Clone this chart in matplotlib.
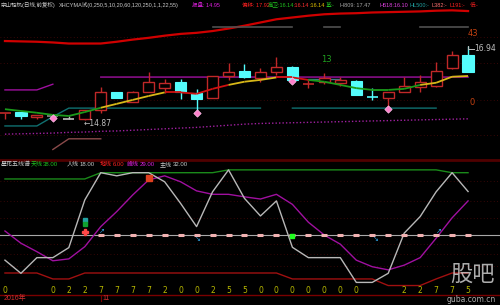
import matplotlib
matplotlib.use("Agg")
import matplotlib.pyplot as plt
import numpy as np
from matplotlib.collections import LineCollection

plt.rcParams['font.family'] = ['Liberation Sans', 'Noto Sans CJK SC', 'DejaVu Sans']

# ---- price panel data ----
opens = [15.07, 15.09, 14.96, 14.99, 14.90, 14.89, 15.15, 15.64, 15.38, 15.66,
         15.76, 15.92, 15.63, 15.48, 16.11, 16.24, 16.04, 16.22, 16.34, 15.87,
         15.92, 15.90, 15.97, 15.52, 15.49, 15.64, 15.80, 15.83, 16.33, 16.69]
closes = [15.07, 14.99, 15.01, 14.99, 14.90, 15.15, 15.66, 15.48, 15.66, 15.93,
          15.90, 15.64, 15.45, 16.10, 16.22, 16.08, 16.20, 16.34, 15.99, 15.87,
          16.05, 15.99, 15.57, 15.52, 15.66, 15.82, 15.94, 16.24, 16.69, 16.20]
highs = [15.07, 15.09, 15.01, 14.99, 14.99, 15.15, 15.80, 15.64, 15.67, 16.22,
         16.02, 16.02, 15.73, 16.10, 16.46, 16.43, 16.32, 16.62, 16.38, 15.99,
         16.19, 16.06, 15.99, 15.77, 15.66, 16.06, 16.13, 16.50, 16.80, 16.94]
lows = [14.90, 14.90, 14.89, 14.95, 14.90, 14.87, 15.07, 15.48, 15.38, 15.66,
        15.63, 15.46, 15.15, 15.48, 15.99, 16.05, 15.92, 16.13, 15.99, 15.77,
        15.87, 15.83, 15.57, 15.43, 15.23, 15.64, 15.66, 15.80, 16.29, 16.20]

ma_line = [15.17, 15.12, 15.07, 15.01, 14.98, 15.09, 15.21, 15.32, 15.43, 15.54,
           15.64, 15.64, 15.60, 15.74, 15.85, 15.94, 15.99, 16.06, 16.06, 15.99,
           15.94, 15.85, 15.76, 15.71, 15.71, 15.74, 15.85, 15.91, 16.08, 16.10]
ma_colors = (['#1a9a1a'] * 6 + ['#d8b818'] * 4 + ['#d01010'] * 4 + ['#d8b818'] * 3
             + ['#d01010'] * 2 + ['#1a9a1a'] * 7 + ['#d8b818'] * 3)

upper_red = [17.08, 17.07, 17.06, 17.04, 17.01, 17.01, 17.01, 17.06, 17.12, 17.17,
             17.23, 17.28, 17.31, 17.36, 17.43, 17.51, 17.60, 17.69, 17.74, 17.79,
             17.83, 17.85, 17.86, 17.88, 17.89, 17.90, 17.91, 17.93, 17.94, 17.92]
nan = np.nan
h809 = [nan] * 13 + [17.47] * 6 + [nan] + [17.47] * 2 + [nan] * 4 + [17.47] * 4
h618 = [15.71, 15.71, 15.71, 15.87, nan, nan] + [16.07] * 24
hl500 = [14.70, 14.70, 14.70, 14.96] + [15.20] * 13 + [nan] + [15.20] * 10 + [nan, nan]
blue_seg = [nan] * 19 + [16.01] * 3 + [nan] * 8
brown = [nan, nan, nan, 14.04, 14.34, 14.34, 14.34] + [nan] * 23
dotted = [14.47, 14.48, 14.49, 14.50, 14.52, 14.53, 14.55, 14.56, 14.58, 14.60,
          14.62, 14.64, 14.66, 14.69, 14.72, 14.75, 14.77, 14.78, 14.79, 14.80,
          14.81, 14.82, 14.83, 14.84, 14.85, 14.86, 14.87, 14.88, 14.89, 14.90]
diamond_idx = [3, 12, 18, 24]
diamond_val = [14.93, 15.06, 15.96, 15.17]
price_grid = [17.19, 16.47, 15.43, 14.45]

# ---- indicator panel data ----
sky = [36.0] * 6 + [38.0] * 8 + [38.9] * 14 + [38.0] * 2
main_line = [10.1, 5.9, 10.9, 10.9, 14.1, 29.3, 38.0, 37.0, 38.0, 38.0,
             35.1, 28.2, 20.8, 31.9, 38.9, 29.8, 24.2, 29.0, 14.2, 10.9,
             10.9, 10.9, 3.0, 3.0, 5.9, 18.7, 24.0, 31.9, 38.0, 32.0]
peak_line = [19.4, 15.5, 12.8, 9.9, 10.5, 14.4, 20.8, 25.6, 30.9, 35.7,
             37.0, 35.1, 32.2, 31.1, 31.1, 30.3, 29.6, 31.1, 27.9, 22.2,
             18.1, 15.2, 10.1, 8.0, 7.0, 8.5, 10.9, 17.1, 23.6, 29.0]
ground = [6.0, 6.0, 6.0, 4.1, 4.1] + [6.0] * 13 + [4.1] * 6 + [2.0] * 3 + [4.1, 6.0, 6.0]
human = 18.0
digits = ['0', '', '', '0', '2', '2', '7', '7', '7', '7', '2', '0', '0', '2', '5',
          '5', '0', '0', '0', '0', '0', '0', '0', '', '', '2', '2', '7', '7', '5']
ind_grid = [35.35, 28.97, 23.55, 15.25, 12.06, 8.23]

n = len(opens)
x = np.arange(n)

fig = plt.figure(figsize=(5, 3.05), dpi=100, facecolor='black')


def fx(px):
    return px / 500.0


def fy(py):
    return 1 - py / 305.0


# ===== price panel =====
ax = fig.add_axes([0, fy(152), 1, 152 / 305.0])
ax.set_facecolor('black')
ax.set_xlim(-0.31, 31.0)
ax.set_ylim(13.97, 18.23)
ax.axis('off')

for g in price_grid:
    ax.axhline(g, color='#4a0808', lw=0.6, ls=(0, (1, 3)), zorder=0)

ax.plot(x, upper_red, color='#d00000', lw=1.6, zorder=2)
ax.plot(x, h809, color='#505050', lw=1.2, zorder=2)
ax.plot(x, h618, color='#a010a0', lw=1.0, zorder=2)
ax.plot(x, hl500, color='#107070', lw=1.0, zorder=2)
ax.plot(x, blue_seg, color='#3a7a8a', lw=1.0, zorder=2)
ax.plot(x, brown, color='#8a4a4a', lw=1.0, zorder=2)
ax.plot(x, dotted, color='#a020a0', lw=1.0, ls=(0, (1, 1.5)), zorder=2)

red_c = '#c02828'
cyan_c = '#54fcfc'
for i in range(n):
    o, c, h, l = opens[i], closes[i], highs[i], lows[i]
    if c > o:
        col = red_c
    elif c < o:
        col = cyan_c
    elif i == 4:
        col = '#c0c0c0'
    elif i == 23:
        col = cyan_c
    elif i == 3:
        col = '#909090'
    else:
        col = red_c
    ax.vlines(i, l, h, color=col, lw=1.0, zorder=3)
    if c == o:
        ax.hlines(o, i - 0.35, i + 0.35, color=col, lw=1.2, zorder=4)
    elif c > o:
        ax.bar(i, c - o, bottom=o, width=0.7, facecolor='black',
               edgecolor=col, lw=1.0, zorder=4)
    else:
        ax.bar(i, o - c, bottom=c, width=0.7, facecolor=col,
               edgecolor=col, lw=0.8, zorder=4)

pts = np.column_stack([x, ma_line])
segs = [pts[k:k + 2] for k in range(n - 1)]
ax.add_collection(LineCollection(segs, colors=ma_colors, lw=1.3, zorder=5))

ax.scatter(diamond_idx, diamond_val, marker='D', s=14, color='#ff80cc',
           edgecolor='#ffc0e8', lw=0.5, zorder=6)

ax.text(4.95, 14.87 - 0.09, '←14.87', color='#c0c0c0', fontsize=5.5,
        va='center', ha='left', family='DejaVu Sans', zorder=7)
ax.plot([29, 29, 29.35], [16.94, 16.86, 16.86], color='#c0c0c0', lw=0.7, zorder=7)
ax.text(29.4, 16.86, '16.94', color='#c0c0c0', fontsize=5.5, va='center',
        ha='left', family='DejaVu Sans', zorder=7)
ax.text(20.1, 16.55, '13', color='#20a020', fontsize=6, va='center', ha='center',
        family='DejaVu Sans')
ax.text(29.0, 17.30, '43', color='#c04010', fontsize=6, va='center', ha='left',
        family='DejaVu Sans')
ax.text(29.1, 15.37, '0', color='#c04010', fontsize=6, va='center', ha='left',
        family='DejaVu Sans')

# ===== indicator panel =====
bx = fig.add_axes([0, fy(294), 1, 134 / 305.0])
bx.set_facecolor('black')
bx.set_xlim(-0.31, 31.0)
bx.set_ylim(-0.7, 42.05)
bx.axis('off')

for g in ind_grid:
    bx.axhline(g, color='#4a0808', lw=0.6, ls=(0, (1, 3)), zorder=0)

bx.plot(x, sky, color='#1a8a1a', lw=1.0, zorder=2)
bx.plot(x, ground, color='#a01010', lw=1.0, zorder=2)
bx.plot(x, peak_line, color='#a010a0', lw=1.0, zorder=3)
bx.plot(x, main_line, color='#b8b8b8', lw=1.0, zorder=4)
bx.axhline(human, color='#a8a8a8', lw=0.8, zorder=2)
bx.plot(x[6:], [human] * (n - 6), ls='none', marker='_', ms=5, mew=2.2,
        color='#f0b0b0', zorder=5)

bx.plot([5], [22.9], 's', ms=3.5, color='#20a0a0', zorder=6)
bx.plot([5], [21.5], 's', ms=3.5, color='#10a030', zorder=6)
bx.plot([5], [19.2], 'P', ms=4, color='#ff4848', zorder=6)
bx.plot([9], [36.2], 's', ms=4.5, color='#e04020', zorder=6)
bx.plot([18], [17.8], 's', ms=3, color='#20ff20', zorder=6)
for xi, yi, ch in [(6.1, 19.4, '↗'), (12.1, 16.8, '↘'), (23.2, 16.8, '↘'), (27.2, 19.4, '↗')]:
    bx.text(xi, yi, ch, color='#30a0e0', fontsize=5, ha='center', va='center',
            family='DejaVu Sans', zorder=6)

for i, d in enumerate(digits):
    if d:
        bx.text(i, 0.4, d, color='#b8b800', fontsize=5.5, ha='center', va='center',
                family='DejaVu Sans', zorder=6)

# watermark
fig.text(fx(472), fy(275), '股吧', color='#d8d8d8', alpha=0.8, fontsize=16,
         ha='center', va='center', zorder=0)
fig.text(fx(471), fy(300), 'guba.com.cn', color='#d8d8d8', alpha=0.8,
         fontsize=5.5, ha='center', va='center', family='DejaVu Sans')

# separators and date bar
fig.add_artist(plt.Line2D([0, 1], [fy(159.5), fy(159.5)], color='#500000', lw=2.0))
fig.add_artist(plt.Line2D([0, 1], [fy(294.5), fy(294.5)], color='#7a0000', lw=1.0))
fig.add_artist(plt.Line2D([fx(100.5), fx(100.5)], [fy(294.5), fy(301)], color='#7a0000', lw=0.8))
fig.text(fx(4), fy(298.5), '2016年', color='#d03030', fontsize=5, va='center', ha='left')
fig.text(fx(102), fy(298.5), '11', color='#d03030', fontsize=5, va='center', ha='left')

# header of price panel
hy = fy(5.5)
fs = 4.0
header = [
    (1, '宗山轻机(日线,前复权)', '#c8c8c8'),
    (59, 'XHCYMA试(0,250,5,10,20,60,120,250,1,1,22,55)', '#c8c8c8'),
    (192, '报盘: 14.95', '#e020e0'),
    (242, '偏移: 17.92', '#ff2020'),
    (268, '高卫:16.14', '#20c020'),
    (294, ':16.14', '#ff3030'),
    (310, ':16.14', '#e0c000'),
    (326, '基:-', '#20c020'),
    (340, 'H809: 17.47', '#a8a8a8'),
    (379, 'H618:16.10', '#e040e0'),
    (409, 'HL500:-', '#20a0a0'),
    (431, 'L382:-', '#ff7070'),
    (450, 'L191:-', '#ff2020'),
    (470, '低:-', '#ff2020'),
]
for px, s, col in header:
    fig.text(fx(px), hy, s, color=col, fontsize=fs, va='center', ha='left')

# header of indicator panel
iy = fy(164)
ind_header = [
    (1, '星花五线谱', '#c8c8c8'),
    (31, '天线', '#20c020'),
    (43, '38.00', '#20c020'),
    (67, '人线', '#c8c8c8'),
    (80, '18.00', '#c8c8c8'),
    (100, '地线', '#ff2020'),
    (113, '6.00', '#ff2020'),
    (127, '峰线', '#e020e0'),
    (140, '29.00', '#e020e0'),
    (160, '主线', '#c8c8c8'),
    (173, '32.00', '#c8c8c8'),
]
for px, s, col in ind_header:
    fig.text(fx(px), iy, s, color=col, fontsize=4.3, va='center', ha='left')

fig.savefig('out.png', dpi=100, facecolor='black')
